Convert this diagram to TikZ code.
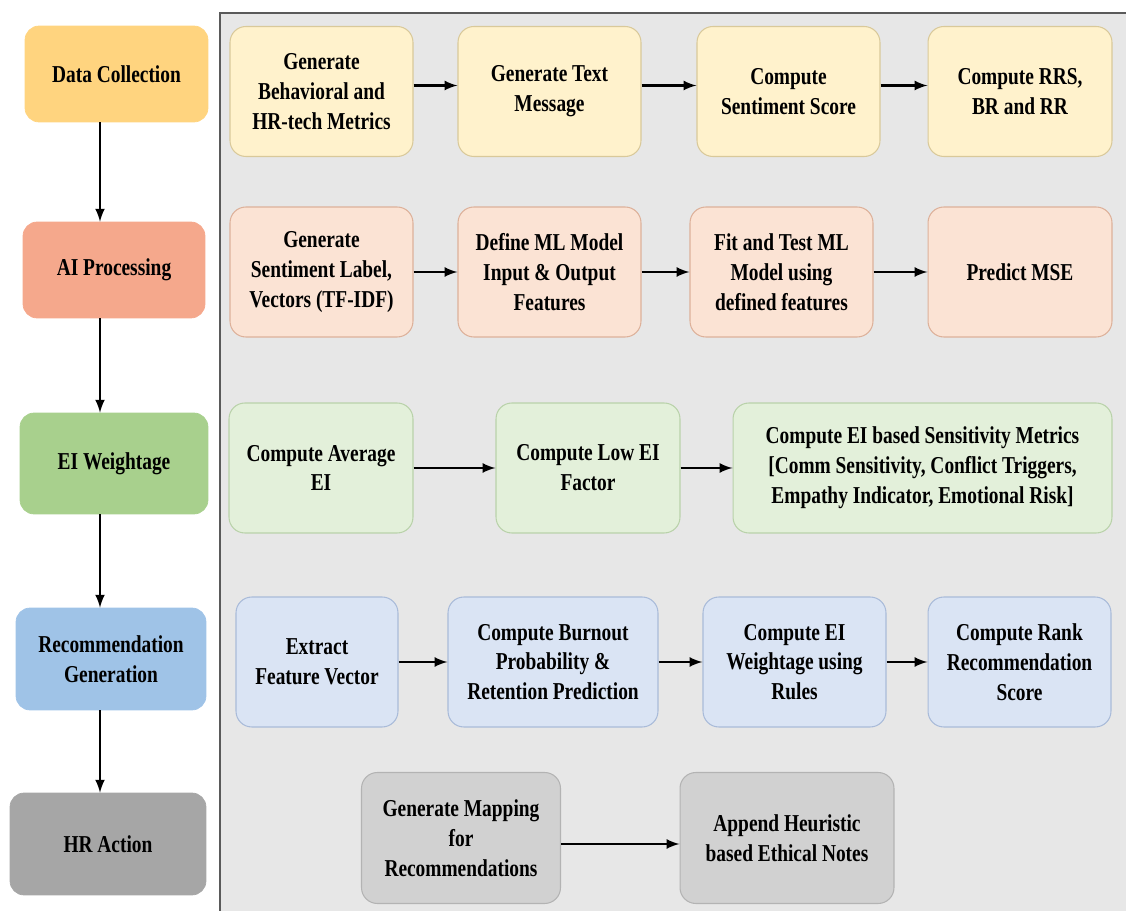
\documentclass[tikz,border=0pt]{standalone}
\usepackage{fontspec}
\setmainfont{Liberation Serif}[FakeStretch=0.8]
\usepackage{tikz}
\usetikzlibrary{positioning}

\definecolor{panelfill}{HTML}{E7E7E7}
\definecolor{panelline}{HTML}{5A5A5A}
\definecolor{dcfill}{HTML}{FFD47F}
\definecolor{aifill}{HTML}{F5A88C}
\definecolor{eifill}{HTML}{A8D08D}
\definecolor{recfill}{HTML}{9FC3E7}
\definecolor{hrfill}{HTML}{A6A6A6}
\definecolor{rowAfill}{HTML}{FFF2CC}
\definecolor{rowAline}{HTML}{D9C99A}
\definecolor{rowBfill}{HTML}{FBE3D4}
\definecolor{rowBline}{HTML}{DDB19A}
\definecolor{rowCfill}{HTML}{E3F0DA}
\definecolor{rowCline}{HTML}{B9D2AA}
\definecolor{rowDfill}{HTML}{DAE4F4}
\definecolor{rowDline}{HTML}{A9BBD9}
\definecolor{rowEfill}{HTML}{D1D1D1}
\definecolor{rowEline}{HTML}{B3B3B3}

\tikzset{
  txt/.style={align=center, font=\fontsize{13.8}{17}\selectfont\bfseries, text=black},
  stage/.style={txt, rounded corners=8pt, minimum width=3.66cm, minimum height=1.92cm},
  stepbox/.style={txt, rounded corners=9pt, line width=0.6pt, minimum width=3.66cm, minimum height=2.6cm},
  rowA/.style={stepbox, fill=rowAfill, draw=rowAline},
  rowB/.style={stepbox, fill=rowBfill, draw=rowBline},
  rowC/.style={stepbox, fill=rowCfill, draw=rowCline},
  rowD/.style={stepbox, fill=rowDfill, draw=rowDline},
  rowE/.style={stepbox, fill=rowEfill, draw=rowEline},
  flow/.style={->, line width=1.5pt},
}

\begin{document}
\begin{tikzpicture}[x=0.02cm, y=-0.02cm, >=latex]
\useasboundingbox (0,0) rectangle (1126,911);
% grey panel behind the steps
\fill[panelfill] (220,13) rectangle (1126,911);
\draw[panelline, line width=1.2pt] (220,911) |- (1126,13);

% stages on the left
\node[stage, fill=dcfill, draw=dcfill] (dc) at (116.5,74) {Data Collection};
\node[stage, fill=aifill, draw=aifill, minimum width=3.64cm] (ai) at (114,270) {AI Processing};
\node[stage, fill=eifill, draw=eifill, minimum width=3.76cm, minimum height=2.02cm] (ei) at (114,463.5) {EI Weightage};
\node[stage, fill=recfill, draw=recfill, minimum width=3.8cm, minimum height=2.04cm] (rec) at (111,659) {Recommendation\\Generation};
\node[stage, fill=hrfill, draw=hrfill, minimum width=3.92cm, minimum height=2.04cm] (hr) at (108,844) {HR Action};
\coordinate (ax) at (100,0);
\draw[flow] (dc.south -| ax) -- (ai.north -| ax);
\draw[flow] (ai.south -| ax) -- (ei.north -| ax);
\draw[flow] (ei.south -| ax) -- (rec.north -| ax);
\draw[flow] (rec.south -| ax) -- (hr.north -| ax);

% data collection
\node[rowA] (b1) at (321.5,91.5) {Generate\\Behavioral and\\HR-tech Metrics};
\node[rowA] (b2) at (549.5,91.5) {Generate Text\\Message};
\node[rowA] (b3) at (788.5,91.5) {Compute\\Sentiment Score};
\node[rowA, minimum width=3.68cm] (b4) at (1020,91.5) {Compute RRS,\\BR and RR};
\draw[flow] ([yshift=0.12cm]b1.east) -- ([yshift=0.12cm]b2.west);
\draw[flow] ([yshift=0.12cm]b2.east) -- ([yshift=0.12cm]b3.west);
\draw[flow] ([yshift=0.12cm]b3.east) -- ([yshift=0.12cm]b4.west);

% ai processing
\node[rowB] (c1) at (321.5,272) {Generate\\Sentiment Label,\\Vectors (TF-IDF)};
\node[rowB] (c2) at (549.5,272) {Define ML Model\\Input \& Output\\Features};
\node[rowB] (c3) at (781.5,272) {Fit and Test ML\\Model using\\defined features};
\node[rowB, minimum width=3.68cm] (c4) at (1020,272) {Predict MSE};
\draw[flow] (c1) -- (c2);
\draw[flow] (c2) -- (c3);
\draw[flow] (c3) -- (c4);

% ei weightage
\node[rowC, minimum width=3.68cm] (d1) at (321,468) {Compute Average\\EI};
\node[rowC, minimum width=3.68cm] (d2) at (588,468) {Compute Low EI\\Factor};
\node[rowC, minimum width=7.58cm] (d3) at (922.5,468) {Compute EI based Sensitivity Metrics\\{[}Comm Sensitivity, Conflict Triggers,\\Empathy Indicator, Emotional Risk{]}};
\draw[flow] (d1) -- (d2);
\draw[flow] (d2) -- (d3);

% recommendation generation
\node[rowD, minimum width=3.24cm] (e1) at (317,662) {Extract\\Feature Vector};
\node[rowD, minimum width=4.2cm] (e2) at (553,662) {Compute Burnout\\Probability \&\\Retention Prediction};
\node[rowD] (e3) at (794.5,662) {Compute EI\\Weightage using\\Rules};
\node[rowD] (e4) at (1019.5,662) {Compute Rank\\Recommendation\\Score};
\draw[flow] (e1) -- (e2);
\draw[flow] (e2) -- (e3);
\draw[flow] (e3) -- (e4);

% hr action
\node[rowE, minimum width=3.98cm, minimum height=2.62cm] (f1) at (461,838) {Generate Mapping\\for\\Recommendations};
\node[rowE, minimum width=4.28cm, minimum height=2.62cm] (f2) at (787,838) {Append Heuristic\\based Ethical Notes};
\draw[flow] ([yshift=-0.12cm]f1.east) -- ([yshift=-0.12cm]f2.west);
\end{tikzpicture}
\end{document}
